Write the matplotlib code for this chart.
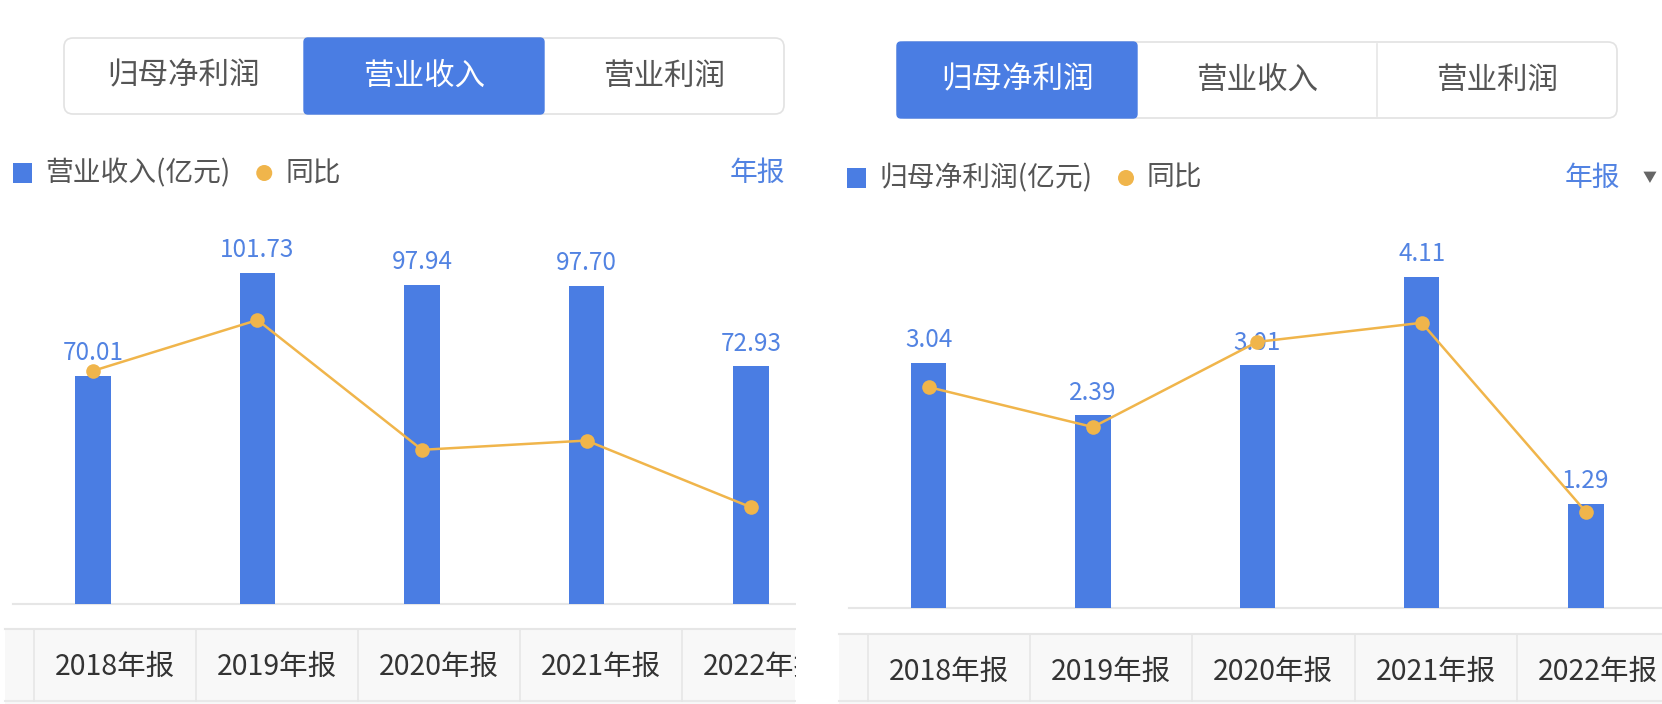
import matplotlib
matplotlib.use("Agg")
import matplotlib.pyplot as plt
from matplotlib.patches import Rectangle, FancyBboxPatch, Circle

plt.rcParams["font.family"] = ["Noto Sans CJK SC", "DejaVu Sans"]

# ── data ──────────────────────────────────────────────────────────────────────
YEARS        = ["2018年报", "2019年报", "2020年报", "2021年报", "2022年报"]
TABS         = ["归母净利润", "营业收入", "营业利润"]
REVENUE      = [70.01, 101.73, 97.94, 97.70, 72.93]
REVENUE_YOY  = [26.1, 45.3, -3.7, -0.2, -25.4]
PROFIT       = [3.04, 2.39, 3.01, 4.11, 1.29]
PROFIT_YOY   = [0.8, -21.4, 25.9, 36.5, -68.6]

BLUE   = "#4a7de3"
LBLUE  = "#5283e2"
ORANGE = "#f0b54b"
GREY   = "#555555"
DARK   = "#333333"
LINE   = "#e6e6e6"

W, H = 1662, 704


def rect(x, y, w, h):
    return [x / W, 1 - (y + h) / H, w / W, h / H]


def draw_panel(fig, bg, values, yoy, legend_label, selected,
               tab_x, tab_y, ax_x0, ax_x1, base_y, bar_lim, yoy_lim,
               x_lim, legend_y, legend_x, year_x, table_y, table_cols,
               table_x1, arrow=False):
    # tabs
    tw, th = 240, 76
    bg.add_patch(FancyBboxPatch((tab_x, tab_y), 3 * tw, th,
                                boxstyle="round,pad=0,rounding_size=9",
                                fc="white", ec="#e2e2e2", lw=1.2))
    for i, name in enumerate(TABS):
        cx = tab_x + tw * (i + 0.5)
        if i == selected:
            bg.add_patch(FancyBboxPatch((tab_x + tw * i, tab_y), tw, th,
                                        boxstyle="round,pad=0,rounding_size=4",
                                        fc=BLUE, ec=BLUE, lw=1, zorder=2))
        bg.text(cx, tab_y + th / 2, name, ha="center", va="center",
                fontsize=22, color="white" if i == selected else GREY, zorder=3)
        if i < 2 and i != selected and i + 1 != selected:
            bg.plot([tab_x + tw * (i + 1)] * 2, [tab_y + 2, tab_y + th - 2],
                    color="#e6e6e6", lw=1.2)

    # legend
    bg.add_patch(Rectangle((legend_x, legend_y - 10), 19, 20, fc=BLUE, ec="none"))
    t = bg.text(legend_x + 32, legend_y, legend_label, ha="left", va="center",
                fontsize=20, color=GREY)
    fig.canvas.draw()
    end_x = t.get_window_extent().x1
    bg.add_patch(Circle((end_x + 34, legend_y), 8, fc=ORANGE, ec="none"))
    bg.text(end_x + 55, legend_y, "同比", ha="left", va="center",
            fontsize=20, color=GREY)
    bg.text(year_x, legend_y, "年报", ha="left", va="center",
            fontsize=20, color=LBLUE)
    if arrow:
        bg.text(year_x + 78, legend_y, "▼", ha="left", va="center",
                fontsize=10, color="#666666")

    # baseline
    bg.plot([ax_x0, ax_x1], [base_y, base_y], color=LINE, lw=1.5, zorder=1)

    # bars
    ax = fig.add_axes(rect(ax_x0, 200, ax_x1 - ax_x0, base_y - 200))
    ax.patch.set_alpha(0)
    xs = range(len(values))
    ax.bar(xs, values, width=0.215, color=BLUE, zorder=2)
    for x, v in zip(xs, values):
        ax.annotate(f"{v:.2f}", (x, v), xytext=(0, 7), textcoords="offset points",
                    ha="center", va="bottom", fontsize=17.5, color=LBLUE)
    ax.set_xlim(*x_lim)
    ax.set_ylim(0, bar_lim)
    ax.axis("off")

    # yoy line
    ax2 = ax.twinx()
    ax2.plot(xs, yoy, color=ORANGE, lw=1.8, marker="o", markersize=10.5,
             markeredgewidth=0, clip_on=False)
    ax2.set_ylim(*yoy_lim)
    ax2.axis("off")

    # table row with year labels
    x_start = table_cols[0] - 29
    bg.add_patch(Rectangle((x_start, table_y), table_x1 - x_start, H - table_y,
                           fc="#f8f8f8", ec="none", zorder=1))
    bg.plot([x_start, table_x1], [table_y, table_y], color=LINE, lw=1.5, zorder=2)
    bg.plot([x_start, table_x1], [H - 3, H - 3], color="#e9e9e9", lw=1.5, zorder=2)
    for c in table_cols:
        bg.plot([c, c], [table_y, H - 3], color=LINE, lw=1.2, zorder=2)
    step = table_cols[1] - table_cols[0]
    for c, label in zip(table_cols, YEARS):
        bg.text(c + step / 2, table_y + 38, label, ha="center", va="center",
                fontsize=20.5, color=DARK, zorder=3)


fig = plt.figure(figsize=(W / 100, H / 100), dpi=100)
bg = fig.add_axes([0, 0, 1, 1])
bg.set_xlim(0, W)
bg.set_ylim(H, 0)
bg.axis("off")

draw_panel(fig, bg, REVENUE, REVENUE_YOY, "营业收入(亿元)", 1,
           tab_x=64, tab_y=38, ax_x0=13, ax_x1=795, base_y=604,
           bar_lim=124, yoy_lim=(-61.9, 90.6), x_lim=(-0.486, 4.267),
           legend_y=173, legend_x=13, year_x=730,
           table_y=629, table_cols=[34, 196, 358, 520, 682], table_x1=795)

draw_panel(fig, bg, PROFIT, PROFIT_YOY, "归母净利润(亿元)", 0,
           tab_x=897, tab_y=42, ax_x0=849, ax_x1=1662, base_y=608,
           bar_lim=5.06, yoy_lim=(-121.9, 104.7), x_lim=(-0.484, 4.462),
           legend_y=178, legend_x=847, year_x=1565,
           table_y=634, table_cols=[868, 1030, 1192, 1355, 1517], table_x1=1662,
           arrow=True)

# white gap between the two screenshots (cuts the left panel's last label)
bg.add_patch(Rectangle((796, 600), 40, H - 600, fc="white", ec="none", zorder=10))

fig.savefig("out.png", dpi=100, facecolor="white")
